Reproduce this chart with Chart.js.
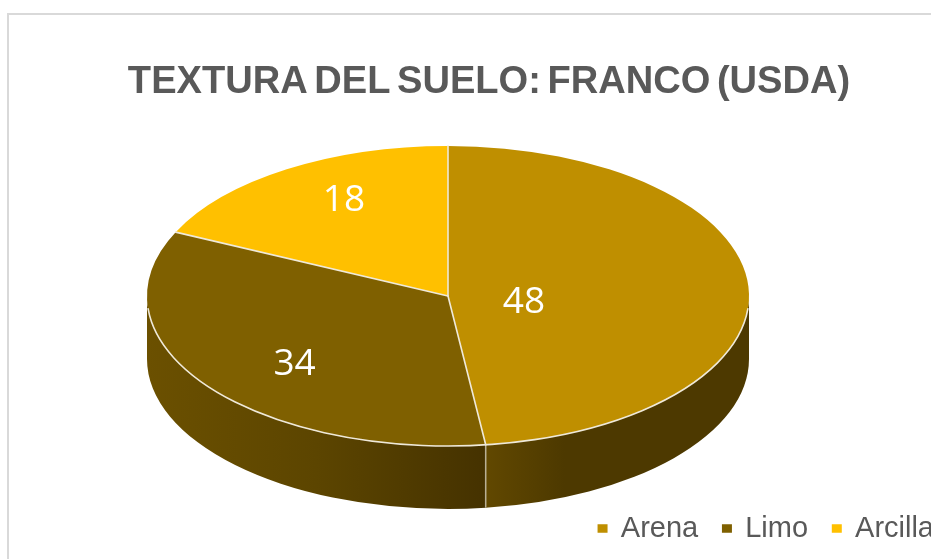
<!DOCTYPE html>
<html><head><meta charset="utf-8">
<script src="https://cdn.jsdelivr.net/npm/chart.js@4/dist/chart.umd.min.js"></script>
<style>
html,body{margin:0;padding:0;background:#fff;overflow:hidden;width:931px;height:559px}
#frame{position:absolute;left:7px;top:13px;width:962px;height:560px;border-left:2px solid #d9d9d9;border-top:2px solid #d9d9d9}
canvas{display:block}
</style></head><body>
<div id="frame"><canvas id="c" width="960" height="538"></canvas></div>
<script>
const categories = ['Arena', 'Limo', 'Arcilla'];
const values = [48, 34, 18];
const colors = ['#BF8F00', '#7F6000', '#FFC000'];
const titleText = 'TEXTURA DEL SUELO: FRANCO (USDA)';

// 3D look of the pie (styling, in canvas pixels)
const view = {cx: 439, cy: 281, rx: 301, ry: 150, depth: 63};
const labelPlace = [{f: .253, dy: 9}, {f: .63, dy: 13}, {f: .645, dy: -13.5}];
const wallStops = [
  [[0, '#614800'], [.3, '#4d3900'], [1, '#4d3900']],
  [[0, '#6b5000'], [.5, '#5c4500'], [1, '#453200']],
  [[0, '#6b5000'], [1, '#453200']]
];
const RIM = '#efe9d9';

const pie3d = {
  id: 'pie3d',
  afterLayout(chart) { chart.legend.right = 950; },
  beforeDraw(chart) { chart.ctx.wordSpacing = '-4px'; },
  beforeDatasetsDraw(chart) {
    const ctx = chart.ctx;
    ctx.wordSpacing = '0px';
    const arcs = chart.getDatasetMeta(0).data;
    const {cx, cy, rx, ry, depth} = view;
    arcs.forEach((arc, i) => {
      const a0 = Math.max(arc.startAngle, 0), a1 = Math.min(arc.endAngle, Math.PI);
      if (a1 <= a0) return;
      const xa = cx + rx * Math.cos(a0), xb = cx + rx * Math.cos(a1);
      const g = ctx.createLinearGradient(Math.min(xa, xb), 0, Math.max(xa, xb), 0);
      wallStops[i].forEach(s => g.addColorStop(s[0], s[1]));
      ctx.beginPath();
      ctx.ellipse(cx, cy, rx, ry, 0, a0, a1);
      ctx.ellipse(cx, cy + depth, rx, ry, 0, a1, a0, true);
      ctx.closePath();
      ctx.fillStyle = g;
      ctx.fill();
    });
    const a = arcs[0];
    ctx.save();
    ctx.translate(cx, cy);
    ctx.scale(rx / a.outerRadius, ry / a.outerRadius);
    ctx.translate(-a.x, -a.y);
  },
  afterDatasetsDraw(chart) {
    const ctx = chart.ctx;
    ctx.restore();
    const arcs = chart.getDatasetMeta(0).data;
    const {cx, cy, rx, ry, depth} = view;
    ctx.lineCap = 'round';
    // spokes
    ctx.strokeStyle = RIM;
    ctx.lineWidth = 1.6;
    arcs.forEach(arc => {
      ctx.beginPath();
      ctx.moveTo(cx, cy);
      ctx.lineTo(cx + rx * Math.cos(arc.startAngle), cy + ry * Math.sin(arc.startAngle));
      ctx.stroke();
    });
    // front rim
    ctx.beginPath();
    ctx.ellipse(cx, cy, rx, ry, 0, .085, Math.PI - .085);
    ctx.stroke();
    // wall seams on the visible front
    arcs.forEach(arc => {
      const t = arc.startAngle;
      if (t > 0 && t < Math.PI) {
        const x = cx + rx * Math.cos(t), y = cy + ry * Math.sin(t);
        ctx.strokeStyle = 'rgba(235,230,215,.6)';
        ctx.lineWidth = 1.6;
        ctx.beginPath();
        ctx.moveTo(x, y);
        ctx.lineTo(x, y + depth - 1);
        ctx.stroke();
      }
    });
    // value labels
    ctx.fillStyle = '#fff';
    ctx.font = '37px "Open Sans"';
    ctx.textAlign = 'center';
    ctx.textBaseline = 'middle';
    arcs.forEach((arc, i) => {
      const m = (arc.startAngle + arc.endAngle) / 2, p = labelPlace[i];
      ctx.fillText(String(values[i]),
        cx + rx * p.f * Math.cos(m),
        cy + ry * p.f * Math.sin(m) + p.dy);
    });
  }
};

new Chart(document.getElementById('c'), {
  type: 'pie',
  data: {
    labels: categories,
    datasets: [{data: values, backgroundColor: colors, borderWidth: 0, clip: false}]
  },
  options: {
    responsive: false,
    animation: false,
    rotation: 0,
    plugins: {
      tooltip: {enabled: false},
      title: {
        display: true,
        text: titleText,
        color: '#595959',
        font: {family: '"Liberation Sans"', size: 38.1, weight: 'bold'},
        padding: {top: 45, bottom: 20}
      },
      legend: {
        position: 'bottom',
        align: 'end',
        labels: {
          color: '#595959',
          font: {family: '"Liberation Sans"', size: 29},
          padding: 25,
          boxWidth: 7.5,
          boxHeight: 6,
          generateLabels(chart) {
            return categories.map((t, i) => ({
              text: t, fillStyle: colors[i], strokeStyle: colors[i], fontColor: '#595959',
              lineWidth: 2.5, hidden: false, index: i
            }));
          }
        }
      }
    }
  },
  plugins: [pie3d]
});
</script>
</body></html>
